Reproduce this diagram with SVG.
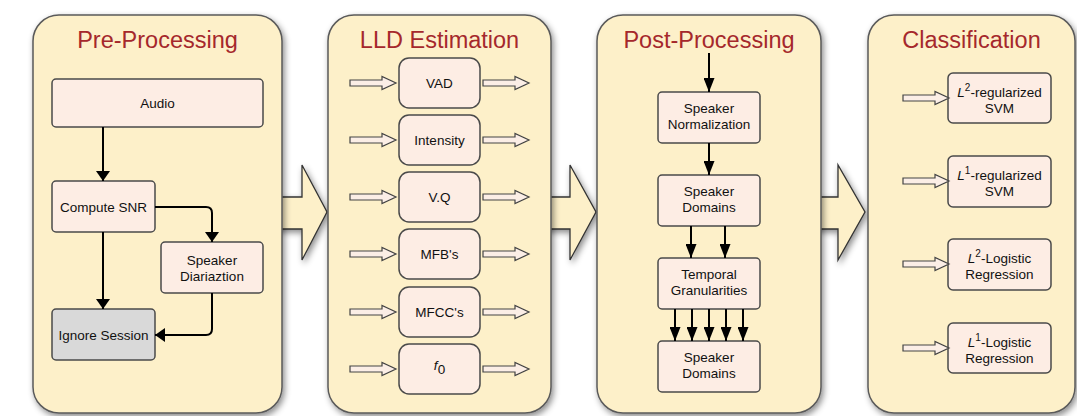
<svg xmlns="http://www.w3.org/2000/svg" width="1077" height="416" viewBox="0 0 1077 416">
<defs>
<filter id="sh" x="-10%" y="-10%" width="125%" height="125%">
<feDropShadow dx="2" dy="3" stdDeviation="3" flood-color="#000" flood-opacity="0.45"/>
</filter>
<marker id="ah" viewBox="0 0 10 14" refX="10" refY="7" markerWidth="10" markerHeight="14" markerUnits="userSpaceOnUse" orient="auto">
<path d="M0,0 L10,7 L0,14 z" fill="#000"/>
</marker>
<marker id="av" viewBox="0 0 14 11" refX="14" refY="5.5" markerWidth="14" markerHeight="11" markerUnits="userSpaceOnUse" orient="auto">
<path d="M0,0 L14,5.5 L0,11 z" fill="#000"/>
</marker>
<path id="hollow" d="M0,-3 H32 V-6.5 L46,0 L32,6.5 V3 H0 z"/>
</defs>
<style>
.panel{fill:#fdf0c9;stroke:#5a5a5a;stroke-width:1.5;filter:url(#sh)}
.title{font-family:"Liberation Sans",Arial,sans-serif;font-size:23.5px;fill:#a5282c;text-anchor:middle}
.node{fill:#fdede4;stroke:#4a4a4a;stroke-width:1.5}
.gray{fill:#d9d9d9;stroke:#4a4a4a;stroke-width:1.5}
.t{font-family:"Liberation Sans",Arial,sans-serif;font-size:13.5px;fill:#111;text-anchor:middle}
.big{fill:#fdf0c9;stroke:#333;stroke-width:1.3;filter:url(#sh)}
.ho{fill:#fbeee6;stroke:#444;stroke-width:1.2}
.ln{fill:none;stroke:#000;stroke-width:2}
</style>
<rect width="1077" height="416" fill="#fff"/>

<g id="bigarrows">
<polygon class="big" points="272,197 302,197 302,165 327,212 302,260 302,229 272,229"/>
<polygon class="big" points="540,197 570,197 570,165 596,212 570,260 570,229 540,229"/>
<polygon class="big" points="810,197 838,197 838,165 865,212 838,260 838,229 810,229"/>
</g>

<g id="panel-pre">
<rect class="panel" x="33" y="15" width="249" height="398" rx="26"/>
<text class="title" x="157.5" y="48">Pre-Processing</text>
</g>
<g id="panel-lld">
<rect class="panel" x="328" y="15" width="223" height="398" rx="26"/>
<text class="title" x="439.5" y="48">LLD Estimation</text>
</g>
<g id="panel-post">
<rect class="panel" x="597" y="15" width="224" height="398" rx="26"/>
<text class="title" x="709" y="48">Post-Processing</text>
</g>
<g id="panel-class">
<rect class="panel" x="868" y="15" width="207" height="398" rx="26"/>
<text class="title" x="971.5" y="48">Classification</text>
</g>

<g id="n-audio"><rect class="node" x="52" y="79" width="211" height="48" rx="4"/><text class="t" x="157.5" y="107.5">Audio</text></g>
<g id="n-snr"><rect class="node" x="52" y="181" width="103" height="51" rx="4"/><text class="t" x="103.5" y="211.5">Compute SNR</text></g>
<g id="n-diar"><rect class="node" x="161" y="242" width="102" height="51" rx="4"/><text class="t" x="212" y="265">Speaker</text><text class="t" x="212" y="281">Diariaztion</text></g>
<g id="n-ignore"><rect class="gray" x="52" y="309" width="103" height="51" rx="4"/><text class="t" x="103.5" y="339.5">Ignore Session</text></g>

<g id="n-vad"><rect class="node" x="399" y="58" width="81" height="50" rx="10"/><text class="t" x="439.5" y="88">VAD</text></g>
<g id="n-int"><rect class="node" x="399" y="115" width="81" height="50" rx="10"/><text class="t" x="439.5" y="145">Intensity</text></g>
<g id="n-vq"><rect class="node" x="399" y="172" width="81" height="50" rx="10"/><text class="t" x="439.5" y="202">V.Q</text></g>
<g id="n-mfb"><rect class="node" x="399" y="229" width="81" height="50" rx="10"/><text class="t" x="439.5" y="259">MFB's</text></g>
<g id="n-mfcc"><rect class="node" x="399" y="287" width="81" height="50" rx="10"/><text class="t" x="439.5" y="317">MFCC's</text></g>
<g id="n-f0"><rect class="node" x="399" y="344" width="81" height="50" rx="10"/><text class="t" x="439.5" y="370"><tspan font-style="italic">f</tspan><tspan dy="4">0</tspan></text></g>

<g id="n-norm"><rect class="node" x="658" y="92" width="102" height="51" rx="4"/><text class="t" x="709" y="113">Speaker</text><text class="t" x="709" y="129">Normalization</text></g>
<g id="n-dom1"><rect class="node" x="658" y="175" width="102" height="51" rx="4"/><text class="t" x="709" y="196">Speaker</text><text class="t" x="709" y="212">Domains</text></g>
<g id="n-temp"><rect class="node" x="658" y="258" width="102" height="51" rx="4"/><text class="t" x="709" y="279">Temporal</text><text class="t" x="709" y="295">Granularities</text></g>
<g id="n-dom2"><rect class="node" x="658" y="341" width="102" height="51" rx="4"/><text class="t" x="709" y="362">Speaker</text><text class="t" x="709" y="378">Domains</text></g>

<g id="n-l2svm"><rect class="node" x="948" y="73" width="103" height="50" rx="5"/><text class="t" x="999.5" y="97"><tspan font-style="italic">L</tspan><tspan dy="-6" font-size="10px">2</tspan><tspan dy="6">-regularized</tspan></text><text class="t" x="999.5" y="113">SVM</text></g>
<g id="n-l1svm"><rect class="node" x="948" y="156" width="103" height="51" rx="5"/><text class="t" x="999.5" y="180"><tspan font-style="italic">L</tspan><tspan dy="-6" font-size="10px">1</tspan><tspan dy="6">-regularized</tspan></text><text class="t" x="999.5" y="196">SVM</text></g>
<g id="n-l2log"><rect class="node" x="948" y="239" width="103" height="51" rx="5"/><text class="t" x="999.5" y="263"><tspan font-style="italic">L</tspan><tspan dy="-6" font-size="10px">2</tspan><tspan dy="6">-Logistic</tspan></text><text class="t" x="999.5" y="279">Regression</text></g>
<g id="n-l1log"><rect class="node" x="948" y="323" width="103" height="50" rx="5"/><text class="t" x="999.5" y="347"><tspan font-style="italic">L</tspan><tspan dy="-6" font-size="10px">1</tspan><tspan dy="6">-Logistic</tspan></text><text class="t" x="999.5" y="363">Regression</text></g>

<g id="connectors">
<path class="ln" d="M103,127 V181" marker-end="url(#ah)"/>
<path class="ln" d="M103,232 V309" marker-end="url(#ah)"/>
<path class="ln" d="M155,207 H206 Q212,207 212,213 V242" marker-end="url(#ah)"/>
<path class="ln" d="M212,293 V329 Q212,335 206,335 H155" marker-end="url(#ah)"/>

<path class="ln" d="M709,53 V92" marker-end="url(#av)"/>
<path class="ln" d="M709,143 V175" marker-end="url(#av)"/>
<path class="ln" d="M691,226 V258" marker-end="url(#av)"/>
<path class="ln" d="M725,226 V258" marker-end="url(#av)"/>
<path class="ln" d="M675,309 V341" marker-end="url(#av)"/>
<path class="ln" d="M692,309 V341" marker-end="url(#av)"/>
<path class="ln" d="M709,309 V341" marker-end="url(#av)"/>
<path class="ln" d="M726,309 V341" marker-end="url(#av)"/>
<path class="ln" d="M743,309 V341" marker-end="url(#av)"/>

<use href="#hollow" class="ho" x="350" y="83"/>
<use href="#hollow" class="ho" x="483" y="83"/>
<use href="#hollow" class="ho" x="350" y="140"/>
<use href="#hollow" class="ho" x="483" y="140"/>
<use href="#hollow" class="ho" x="350" y="197"/>
<use href="#hollow" class="ho" x="483" y="197"/>
<use href="#hollow" class="ho" x="350" y="254"/>
<use href="#hollow" class="ho" x="483" y="254"/>
<use href="#hollow" class="ho" x="350" y="312"/>
<use href="#hollow" class="ho" x="483" y="312"/>
<use href="#hollow" class="ho" x="350" y="369"/>
<use href="#hollow" class="ho" x="483" y="369"/>

<use href="#hollow" class="ho" x="903" y="98"/>
<use href="#hollow" class="ho" x="903" y="181"/>
<use href="#hollow" class="ho" x="903" y="264"/>
<use href="#hollow" class="ho" x="903" y="348"/>
</g>
</svg>
